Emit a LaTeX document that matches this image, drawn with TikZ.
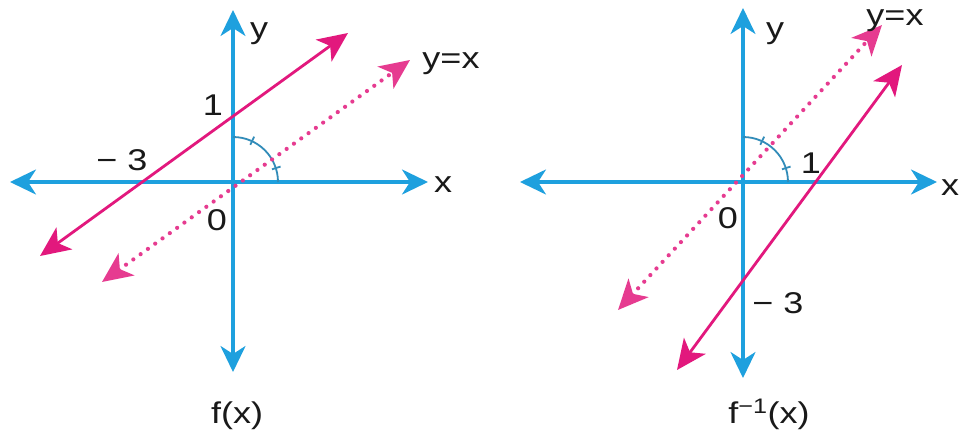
\documentclass[tikz,border=0pt]{standalone}
\usepackage{fontspec}
\setmainfont{Liberation Sans}[FakeStretch=1.2]
\usetikzlibrary{arrows.meta}
\definecolor{axblue}{RGB}{30,160,222}
\definecolor{mag}{RGB}{226,24,125}
\definecolor{arcblue}{RGB}{50,140,185}
\begin{document}
\begin{tikzpicture}[x=1pt,y=-1pt,
  axtip/.tip={Stealth[length=26pt,width=25pt,inset=8pt]},
  magtip/.tip={Stealth[length=30pt,width=27pt,inset=8pt]},
  axis/.style={draw=axblue,line width=3.2pt,axtip-axtip},
  fline/.style={draw=mag,line width=2.8pt,magtip-magtip},
  idline/.style={draw=mag!85,line width=4.2pt,dash pattern=on 0pt off 9pt,line cap=round,magtip-magtip},
  lbl/.style={font=\fontsize{30}{30}\selectfont,text=black!90,inner sep=0pt,anchor=base},
  angarc/.style={draw=arcblue,line width=1.8pt}]
\fill[white] (0,0) rectangle (959,442);
\useasboundingbox (0,0) rectangle (959,442);
% ---------- left panel ----------
\coordinate (O1) at (233,182);
\coordinate (Lyb) at (233,372);
\coordinate (Lyt) at (233,10);
\coordinate (Lxl) at (10,182);
\coordinate (Lxr) at (428,182);
\coordinate (Lfa) at (40,256);
\coordinate (Lfb) at (348,33);
\coordinate (Lia) at (102,282);
\coordinate (Lib) at (410,60);
\draw[axis] (Lyb) -- (Lyt);
\draw[axis] (Lxl) -- (Lxr);
\draw[angarc] (O1) ++(0,-45) arc[start angle=90,end angle=0,radius=45pt];
\draw[angarc] ([shift={(65:41pt)}]O1) -- ([shift={(65:50pt)}]O1);
\draw[angarc] ([shift={(18:41pt)}]O1) -- ([shift={(18:50pt)}]O1);
\draw[idline] (Lia) -- (Lib);
\draw[fline] (Lfa) -- (Lfb);
\node[lbl] (Ly) at (259,38) {y};
\node[lbl] (Lx) at (443,192) {x};
\node[lbl] (Lid) at (451,68) {y=x};
\node[lbl] (Lone) at (213,115) {1};
\node[lbl] (Lm3) at (122,170) {− 3};
\node[lbl] (Lzero) at (217,230) {0};
\node[lbl] (Lcap) at (237,423) {f(x)};
% ---------- right panel ----------
\coordinate (O2) at (743,182);
\coordinate (Ryb) at (743,378);
\coordinate (Ryt) at (743,8);
\coordinate (Rxl) at (520,182);
\coordinate (Rxr) at (937,182);
\coordinate (Rfa) at (677,370);
\coordinate (Rfb) at (902,65);
\coordinate (Ria) at (618,310);
\coordinate (Rib) at (882,25);
\draw[axis] (Ryb) -- (Ryt);
\draw[axis] (Rxl) -- (Rxr);
\draw[angarc] (O2) ++(0,-45) arc[start angle=90,end angle=0,radius=45pt];
\draw[angarc] ([shift={(65:41pt)}]O2) -- ([shift={(65:50pt)}]O2);
\draw[angarc] ([shift={(18:41pt)}]O2) -- ([shift={(18:50pt)}]O2);
\draw[idline] (Ria) -- (Rib);
\draw[fline] (Rfa) -- (Rfb);
\node[lbl] (Ry) at (775,38) {y};
\node[lbl] (Rid) at (895,25) {y=x};
\node[lbl,anchor=base west] (Rx) at (941,195) {x};
\node[lbl] (Rone) at (811,173) {1};
\node[lbl] (Rm3) at (778,313) {− 3};
\node[lbl] (Rzero) at (728,228) {0};
\node[lbl] (Rcap) at (769,423) {f\textsuperscript{−1}(x)};
\end{tikzpicture}
\end{document}
